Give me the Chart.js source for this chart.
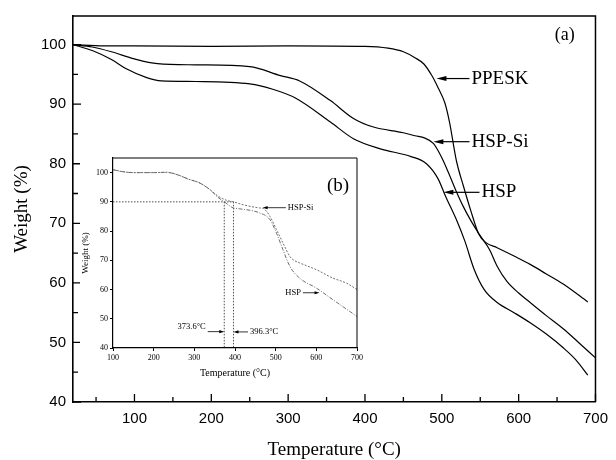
<!DOCTYPE html>
<html>
<head>
<meta charset="utf-8">
<script src="https://cdn.jsdelivr.net/npm/chart.js@4.4.0/dist/chart.umd.min.js"></script>
<style>
  html, body { margin: 0; padding: 0; background: #fff; }
  #wrap { position: relative; width: 616px; height: 460px; }
  #mainChart { position: absolute; left: 0; top: 0; }
  #insetChart { position: absolute; left: 80px; top: 150px; background: #fff; }
</style>
</head>
<body>
<div id="wrap">
  <canvas id="mainChart" width="616" height="460"></canvas>
  <canvas id="insetChart" width="285" height="232"></canvas>
</div>
<script>
// (a) main TGA curves: temperature (°C) / weight (%)
const ppeskT = [20, 60, 100, 200, 300, 400, 430, 450, 465, 477, 487, 495, 504, 510, 519, 528, 538, 548, 557, 572, 594, 615, 636, 658, 690];
const ppeskW = [100, 99.8, 99.8, 99.7, 99.8, 99.7, 99.4, 98.8, 97.8, 96.7, 94.8, 92.8, 90.2, 87, 80.5, 76.3, 72, 68.2, 66.8, 65.9, 64.5, 63.1, 61.5, 59.8, 56.8];

const hspSiT = [20, 45, 70, 100, 130, 180, 250, 290, 315, 355, 385, 410, 450, 465, 478, 489, 500, 508, 518, 528, 538, 549, 562, 572, 585, 600, 615, 636, 658, 678, 700];
const hspSiW = [100, 99.6, 98.8, 97.6, 96.8, 96.6, 96.3, 94.8, 93.9, 90.6, 87.6, 86.2, 85.2, 84.7, 84.3, 83.4, 81, 78.7, 75.6, 72.8, 70.4, 68.1, 65.6, 62.8, 60.2, 58.3, 56.7, 54.5, 52.3, 50, 47.4];

const hspT = [20, 45, 70, 90, 115, 135, 180, 250, 280, 310, 355, 385, 420, 460, 480, 495, 505, 520, 530, 542, 555, 572, 594, 615, 636, 658, 675, 690];
const hspW = [100, 99, 97.5, 95.9, 94.5, 93.9, 93.8, 93.4, 92.5, 91, 87, 84.2, 82.5, 81.2, 80, 77.5, 74.5, 70.3, 67, 62.3, 58.9, 56.7, 55, 53.3, 51.4, 49.1, 47, 44.5];

// (b) inset curves
const inSiT = [100, 125, 150, 200, 232, 260, 285, 314, 340, 360, 380, 396.3, 420, 461, 470, 486, 502, 518, 535, 545, 559, 600, 641, 674, 700];
const inSiW = [101, 100.3, 100, 100, 100.1, 99.2, 97.8, 96.4, 94, 91.8, 90.5, 90, 89, 87.9, 87.7, 85, 80.5, 75.9, 71.3, 70, 69.1, 66.8, 63.9, 62.2, 60];
const inHspT = [100, 125, 150, 200, 232, 260, 285, 314, 340, 355, 373.6, 396, 412, 461, 486, 502, 518, 535, 559, 600, 641, 700];
const inHspW = [101, 100.3, 100, 100, 100.1, 99.2, 97.8, 96.4, 94, 91.9, 90, 87.9, 87.6, 86.2, 83.9, 79.3, 73.6, 67.9, 63.9, 60.5, 56.5, 50.8];

// 10% weight loss level and onset temperatures
const lossLevel = 90;
const onsetTemps = [373.6, 396.3];

// ticks
const xTicks = [100, 200, 300, 400, 500, 600, 700];
const xMinor = [50, 150, 250, 350, 450, 550, 650];
const yTicks = [40, 50, 60, 70, 80, 90, 100];
const yMinor = [45, 55, 65, 75, 85, 95];
const inXTicks = [100, 200, 300, 400, 500, 600, 700];
const inYTicks = [40, 50, 60, 70, 80, 90, 100];

// labels with arrows (data coords)
const mainNotes = [
  { text: 'PPESK', tip: 493, tail: 536, y: 94.3 },
  { text: 'HSP-Si', tip: 489, tail: 536, y: 83.7 },
  { text: 'HSP', tip: 502, tail: 549, y: 75.2 }
];
const insetNotes = [
  { text: 'HSP-Si', tip: 468, tail: 525, y: 88 },
  { text: 'HSP', tip: 608, tail: 567, y: 58.9 },
  { text: '373.6°C', tip: 373.6, tail: 333, y: 45.6, textY: 47.4 },
  { text: '396.3°C', tip: 396.3, tail: 432, y: 45.5 }
];

const pts = (xs, ys) => xs.map((x, i) => ({ x: x, y: ys[i] }));
const serif = 'Liberation Serif, Times New Roman, serif';
const sans = 'Liberation Sans, Arial, sans-serif';

function drawArrow(ctx, tail, tip, y, head, half) {
  const dir = Math.sign(tip - tail);
  ctx.beginPath();
  ctx.moveTo(tail, y);
  ctx.lineTo(tip - dir * head * 0.6, y);
  ctx.stroke();
  ctx.beginPath();
  ctx.moveTo(tip, y);
  ctx.lineTo(tip - dir * head, y - half);
  ctx.lineTo(tip - dir * head, y + half);
  ctx.closePath();
  ctx.fill();
}

function drawNotes(ctx, x, y, notes, fontSize, head, half) {
  ctx.font = fontSize + 'px ' + serif;
  ctx.textBaseline = 'middle';
  notes.forEach(n => {
    const tail = x.getPixelForValue(n.tail);
    const tip = x.getPixelForValue(n.tip);
    const py = y.getPixelForValue(n.y);
    drawArrow(ctx, tail, tip, py, head, half);
    const ty = y.getPixelForValue(n.textY !== undefined ? n.textY : n.y);
    if (tail > tip) {
      ctx.textAlign = 'left';
      ctx.fillText(n.text, tail + 2, ty);
    } else {
      ctx.textAlign = 'right';
      ctx.fillText(n.text, tail - 2, ty);
    }
  });
}

// main frame, inward ticks, labels
const mainFrame = {
  id: 'mainFrame',
  afterDraw(chart) {
    const { ctx, chartArea: a, scales: { x, y } } = chart;
    ctx.save();
    ctx.strokeStyle = '#000';
    ctx.fillStyle = '#000';
    ctx.lineWidth = 1.5;
    ctx.beginPath();
    ctx.moveTo(a.left, a.top);
    ctx.lineTo(a.right, a.top);
    ctx.lineTo(a.right, a.bottom);
    ctx.stroke();

    ctx.lineWidth = 1.3;
    ctx.beginPath();
    xTicks.forEach(v => { const p = x.getPixelForValue(v); ctx.moveTo(p, a.bottom); ctx.lineTo(p, a.bottom - 8); });
    xMinor.forEach(v => { const p = x.getPixelForValue(v); ctx.moveTo(p, a.bottom); ctx.lineTo(p, a.bottom - 5); });
    yTicks.forEach(v => { const p = y.getPixelForValue(v); ctx.moveTo(a.left, p); ctx.lineTo(a.left + 8, p); });
    yMinor.forEach(v => { const p = y.getPixelForValue(v); ctx.moveTo(a.left, p); ctx.lineTo(a.left + 5, p); });
    ctx.stroke();

    ctx.lineWidth = 1.2;
    drawNotes(ctx, x, y, mainNotes, 19, 10, 2.5);

    ctx.font = '18px ' + serif;
    ctx.textAlign = 'left';
    ctx.textBaseline = 'middle';
    ctx.fillText('(a)', x.getPixelForValue(647), y.getPixelForValue(101.5));
    ctx.restore();
  }
};

const insetFrame = {
  id: 'insetFrame',
  afterDraw(chart) {
    const { ctx, chartArea: a, scales: { x, y } } = chart;
    ctx.save();
    ctx.strokeStyle = '#000';
    ctx.fillStyle = '#000';
    ctx.lineWidth = 1;
    ctx.beginPath();
    ctx.moveTo(a.left, a.top);
    ctx.lineTo(a.right, a.top);
    ctx.lineTo(a.right, a.bottom);
    ctx.stroke();

    ctx.lineWidth = 0.8;
    drawNotes(ctx, x, y, insetNotes, 8.5, 5, 1.6);

    ctx.font = '19px ' + serif;
    ctx.textAlign = 'left';
    ctx.textBaseline = 'middle';
    ctx.fillText('(b)', x.getPixelForValue(626), y.getPixelForValue(95.5));
    ctx.restore();
  }
};

const mainLine = (data) => ({
  data: data,
  borderColor: '#000',
  borderWidth: 1.2,
  pointRadius: 0,
  fill: false,
  cubicInterpolationMode: 'monotone'
});

new Chart(document.getElementById('mainChart').getContext('2d'), {
  type: 'line',
  data: {
    datasets: [
      Object.assign(mainLine(pts(ppeskT, ppeskW)), { label: 'PPESK' }),
      Object.assign(mainLine(pts(hspSiT, hspSiW)), { label: 'HSP-Si' }),
      Object.assign(mainLine(pts(hspT, hspW)), { label: 'HSP' })
    ]
  },
  options: {
    responsive: false,
    animation: false,
    devicePixelRatio: 1,
    layout: { padding: { left: 0, top: 13, right: 13, bottom: 0 } },
    plugins: { legend: { display: false }, tooltip: { enabled: false } },
    scales: {
      x: {
        type: 'linear',
        min: 20,
        max: 700,
        afterBuildTicks: s => { s.ticks = xTicks.map(v => ({ value: v })); },
        afterFit: s => { s.height = 58; },
        grid: { display: false, drawTicks: false },
        border: { display: true, color: '#000', width: 1.6 },
        ticks: { color: '#000', font: { family: sans, size: 15 }, padding: 8, maxRotation: 0 },
        title: {
          display: true, text: 'Temperature (°C)', color: '#000',
          font: { family: serif, size: 19, lineHeight: 1 }, padding: { top: 0, bottom: 0.5 }
        }
      },
      y: {
        type: 'linear',
        min: 40,
        max: 104.8,
        afterBuildTicks: s => { s.ticks = yTicks.map(v => ({ value: v })); },
        afterFit: s => { s.width = 73; },
        grid: { display: false, drawTicks: false },
        border: { display: true, color: '#000', width: 1.6 },
        ticks: { color: '#000', font: { family: sans, size: 15 }, padding: 7 },
        title: {
          display: true, text: 'Weight (%)', color: '#000',
          font: { family: serif, size: 19, lineHeight: 1.2 }, padding: { top: 11, bottom: 0 }
        }
      }
    }
  },
  plugins: [mainFrame]
});

const insetLine = (data, dash) => ({
  data: data,
  borderColor: '#6f6f6f',
  borderWidth: 1,
  borderDash: dash,
  pointRadius: 0,
  fill: false,
  cubicInterpolationMode: 'monotone'
});

const refLine = (data) => ({
  data: data,
  borderColor: '#222',
  borderWidth: 0.8,
  borderDash: [1.5, 1.5],
  pointRadius: 0,
  fill: false,
  tension: 0
});

new Chart(document.getElementById('insetChart').getContext('2d'), {
  type: 'line',
  data: {
    datasets: [
      Object.assign(insetLine(pts(inSiT, inSiW), [2, 1.5]), { label: 'HSP-Si' }),
      Object.assign(insetLine(pts(inHspT, inHspW), [4, 1.5, 1, 1.5]), { label: 'HSP' }),
      refLine([{ x: 100, y: lossLevel }, { x: onsetTemps[1], y: lossLevel }]),
      refLine([{ x: onsetTemps[0], y: lossLevel }, { x: onsetTemps[0], y: 40 }]),
      refLine([{ x: onsetTemps[1], y: lossLevel }, { x: onsetTemps[1], y: 40 }])
    ]
  },
  options: {
    responsive: false,
    animation: false,
    devicePixelRatio: 1,
    layout: { padding: { left: 0, top: 8, right: 8, bottom: 0 } },
    plugins: { legend: { display: false }, tooltip: { enabled: false } },
    scales: {
      x: {
        type: 'linear',
        min: 100,
        max: 700,
        afterBuildTicks: s => { s.ticks = inXTicks.map(v => ({ value: v })); },
        afterFit: s => { s.height = 34; },
        grid: { display: true, drawOnChartArea: false, drawTicks: true, tickLength: 3, color: '#000', lineWidth: 1 },
        border: { display: true, color: '#000', width: 1.2 },
        ticks: { color: '#000', font: { family: serif, size: 8 }, padding: 2, maxRotation: 0 },
        title: {
          display: true, text: 'Temperature (°C)', color: '#000',
          font: { family: serif, size: 10, lineHeight: 1.2 }, padding: { top: 0, bottom: 2.6 }
        }
      },
      y: {
        type: 'linear',
        min: 40,
        max: 105,
        afterBuildTicks: s => { s.ticks = inYTicks.map(v => ({ value: v })); },
        afterFit: s => { s.width = 33; },
        grid: { display: true, drawOnChartArea: false, drawTicks: true, tickLength: 3, color: '#000', lineWidth: 1 },
        border: { display: true, color: '#000', width: 1.2 },
        ticks: { color: '#000', font: { family: serif, size: 8 }, padding: 2 },
        title: {
          display: true, text: 'Weight (%)', color: '#000',
          font: { family: serif, size: 9, lineHeight: 1.2 }, padding: { top: 0.6, bottom: 0 }
        }
      }
    }
  },
  plugins: [insetFrame]
});
</script>
</body>
</html>
